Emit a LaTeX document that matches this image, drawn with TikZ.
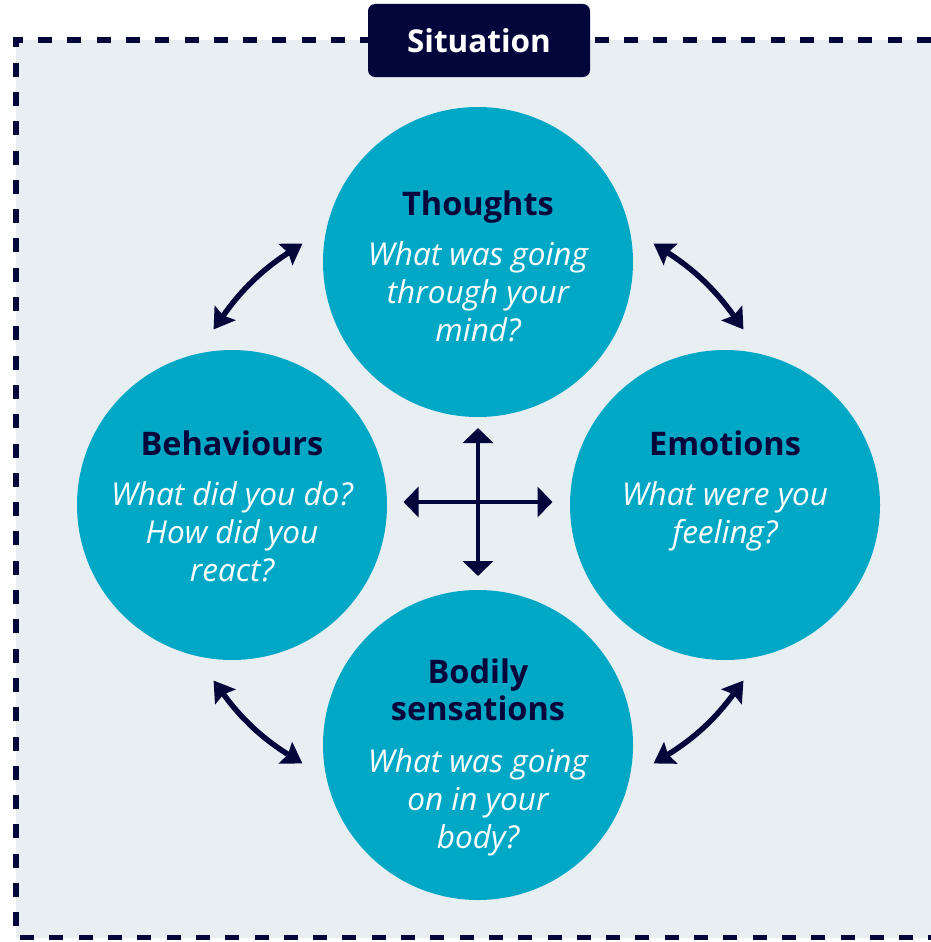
\documentclass[tikz,border=0pt]{standalone}
\usepackage{fontspec}
\setmainfont{Open Sans}
\usetikzlibrary{arrows.meta,calc,positioning}
\definecolor{NavyInk}{RGB}{3,6,58}
\definecolor{CircleTeal}{RGB}{0,168,198}
\definecolor{PanelTint}{RGB}{231,239,243}
\newcommand{\CircleSize}{310pt}
\newcommand{\ArrowGap}{21.5pt}
\newcommand{\Head}[1]{\textcolor{NavyInk}{\fontsize{32.5}{38}\selectfont\upshape\bfseries #1}}

\begin{document}
\begin{tikzpicture}[
  x=1pt,y=-1pt,
  panel/.style={NavyInk,line width=5.5pt,dash pattern=on 14pt off 15.3pt},
  tag/.style={fill=NavyInk,text=white,rounded corners=7pt,minimum width=222pt,minimum height=73pt,
    font=\fontsize{31.5}{36}\selectfont\bfseries},
  area/.style={circle,fill=CircleTeal,minimum size=\CircleSize,inner sep=0pt,outer sep=\ArrowGap},
  ask/.style={anchor=base,align=center,text=white,inner sep=0pt,font=\fontsize{31.5}{38}\selectfont\itshape},
  cycle arrow/.style={NavyInk,line width=5.5pt,{Stealth[length=20pt,width=25pt,inset=3pt]}-{Stealth[length=20pt,width=25pt,inset=3pt]}},
  cross arrow/.style={NavyInk,line width=4.5pt,{Triangle[length=15pt,width=30pt]}-{Triangle[length=15pt,width=30pt]}}
]
\useasboundingbox (0,0) rectangle (931,942);

% Situation panel
\fill[PanelTint] (16,40) rectangle (931,937.5);
\draw[panel] (931,40) -- (16,40) -- (16,937.5) -- (931,937.5);
\node[tag] (situation) at (479,40.5) {Situation};

% Circles
\node[area] (thoughts) at (478,262) {};
\node[area] (behaviours) at (232,505) {};
\node[area] (emotions) at (725,505) {};
\node[area] (bodily) at (478,745) {};
\coordinate (hub) at (478,502);

% Texts (base = last line)
\node[ask] at ([yshift=-79pt]thoughts.center) {\Head{Thoughts}\\[12pt]What was going\\through your\\mind?};
\node[ask] at ([yshift=-76pt]behaviours.center) {\Head{Behaviours}\\[12pt]What did you do?\\How did you\\react?};
\node[ask] at ([yshift=-38pt]emotions.center) {\Head{Emotions}\\[12pt]What were you\\feeling?};
\node[ask] at ([yshift=-103pt]bodily.center) {\Head{Bodily}\\[-1pt]\Head{sensations}\\[14pt]What was going\\on in your\\body?};

% Arrows round the ring
\foreach \from/\fa/\to/\ta in {behaviours/96/thoughts/174,thoughts/6/emotions/84,
                              emotions/-84/bodily/-6,bodily/-174/behaviours/-96}{%
  \draw[cycle arrow] (\from.\fa) to[bend left=11] (\to.\ta);
}

% Cross in the middle
\draw[cross arrow] ([yshift=74pt]hub) -- ([yshift=-74pt]hub);
\draw[cross arrow] ([xshift=-74.5pt]hub) -- ([xshift=74.5pt]hub);

\end{tikzpicture}
\end{document}
